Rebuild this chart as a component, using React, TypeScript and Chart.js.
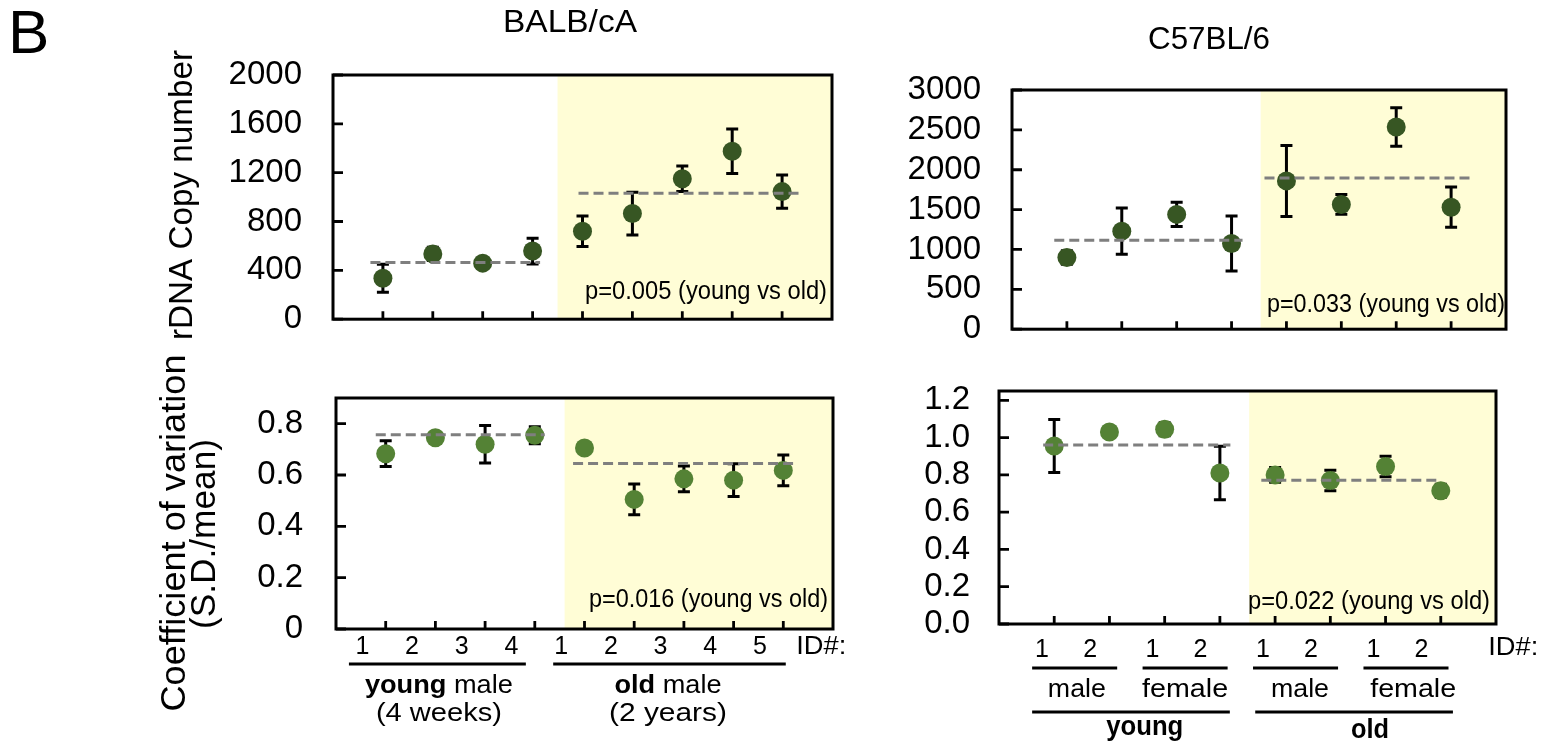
import React, { useEffect, useRef } from 'react';
import { Chart, registerables } from 'chart.js';

Chart.register(...registerables);

const FONT = '"Liberation Sans", Arial, "Noto Sans CJK JP", sans-serif';
const SHADE = '#fffdd6';
const DARK_GREEN = '#375623';
const MID_GREEN = '#548235';
const MEAN_GRAY = '#7f7f7f';

// ---------- BALB/cA ----------
const balbIds = ['1', '2', '3', '4', '1', '2', '3', '4', '5'];
const balbAges = ['young', 'old'];
const balbSex = ' male';
const balbAgeSpans = ['(4 weeks)', '(2 years)'];
const balbCopy = [336, 535, 459, 558, 720, 865, 1150, 1375, 1045];
const balbCopyErr = [115, 55, 10, 106, 125, 175, 105, 182, 137];
const balbCopyMeans = [464, 1032];
const balbCV = [0.683, 0.745, 0.72, 0.755, 0.705, 0.505, 0.585, 0.58, 0.618];
const balbCVErr = [0.05, 0.01, 0.073, 0.033, 0.02, 0.06, 0.05, 0.064, 0.06];
const balbCVMeans = [0.757, 0.645];

// ---------- C57BL/6 ----------
const c57Ids = ['1', '2', '1', '2', '1', '2', '1', '2'];
const c57Sexes = ['male', 'female', 'male', 'female'];
const c57Ages = ['young', 'old'];
const c57Copy = [900, 1230, 1440, 1075, 1860, 1565, 2535, 1530];
const c57CopyErr = [85, 290, 152, 345, 445, 124, 242, 252];
const c57CopyMeans = [1115, 1895];
const c57CV = [0.955, 1.03, 1.045, 0.81, 0.8, 0.77, 0.845, 0.715];
const c57CVErr = [0.142, 0.03, 0.035, 0.143, 0.04, 0.055, 0.055, 0.035];
const c57CVMeans = [0.96, 0.771];

// ---------- ticks & texts ----------
const copyTicksBalb = [0, 400, 800, 1200, 1600, 2000];
const copyTickLabelsBalb = ['0', '400', '800', '1200', '1600', '2000'];
const copyTicksC57 = [0, 500, 1000, 1500, 2000, 2500, 3000];
const copyTickLabelsC57 = ['0', '500', '1000', '1500', '2000', '2500', '3000'];
const cvTicksBalb = [0, 0.2, 0.4, 0.6, 0.8];
const cvTickLabelsBalb = ['0', '0.2', '0.4', '0.6', '0.8'];
const cvTicksC57 = [0, 0.2, 0.4, 0.6, 0.8, 1.0, 1.2];
const cvTickLabelsC57 = ['0.0', '0.2', '0.4', '0.6', '0.8', '1.0', '1.2'];
const pValues = ['p=0.005', 'p=0.033', 'p=0.016', 'p=0.022'];
const pSuffix = ' (young vs old)';
const strainTitles = ['BALB/cA', 'C57BL/6'];
const yTitleCopy = 'rDNA Copy number';
const yTitleCV = ['Coefficient of variation', '(S.D./mean)'];
const panelLetter = 'B';
const idLabel = 'ID#:';

function fnt(size: number, bold?: boolean) {
  return `${bold ? 'bold ' : ''}${size}px ${FONT}`;
}

function drawFit(ctx: any, text: string, x: number, y: number, size: number, width: number | null, opts: any = {}) {
  ctx.save();
  ctx.font = fnt(size, opts.bold);
  const w = ctx.measureText(text).width;
  const sx = width ? width / w : 1;
  ctx.translate(x, y);
  if (opts.rotate) ctx.rotate(opts.rotate);
  ctx.scale(sx, 1);
  ctx.textAlign = opts.align || 'center';
  ctx.textBaseline = opts.baseline || 'middle';
  ctx.fillStyle = '#000';
  ctx.fillText(text, 0, 0);
  ctx.restore();
}

function drawRich(ctx: any, parts: { t: string; bold?: boolean }[], cx: number, y: number, size: number, width: number) {
  ctx.save();
  const ws = parts.map((p) => {
    ctx.font = fnt(size, p.bold);
    return ctx.measureText(p.t).width;
  });
  const total = ws.reduce((a, b) => a + b, 0);
  ctx.translate(cx - width / 2, y);
  ctx.scale(width / total, 1);
  ctx.textAlign = 'left';
  ctx.textBaseline = 'middle';
  ctx.fillStyle = '#000';
  let xx = 0;
  parts.forEach((p, i) => {
    ctx.font = fnt(size, p.bold);
    ctx.fillText(p.t, xx, 0);
    xx += ws[i];
  });
  ctx.restore();
}

function hline(ctx: any, x1: number, x2: number, y: number, w = 2.8) {
  ctx.save();
  ctx.strokeStyle = '#000';
  ctx.lineWidth = w;
  ctx.beginPath();
  ctx.moveTo(x1, y);
  ctx.lineTo(x2, y);
  ctx.stroke();
  ctx.restore();
}

interface PanelCfg {
  box: { left: number; top: number; width: number; height: number };
  area: { left: number; top: number; right: number; bottom: number };
  values: number[];
  errors: number[];
  means: number[];
  meanSpans: number[][];
  yMax: number;
  yTicks: number[];
  yTickLabels: string[];
  tickPad: number;
  xMax: number;
  shadeFrom: number;
  color: string;
  pText: string;
  pDx: number;
  pDy: number;
  pWidth: number;
  decorate: (ctx: any, x: any, y: any, a: any) => void;
}

const panels: PanelCfg[] = [
  {
    box: { left: 0, top: 0, width: 870, height: 370 },
    area: { left: 333, top: 75, right: 832, bottom: 337 },
    values: balbCopy, errors: balbCopyErr, means: balbCopyMeans,
    meanSpans: [[0.75, 4.15], [4.92, 9.35]],
    yMax: 2000, yTicks: copyTicksBalb, yTickLabels: copyTickLabelsBalb, tickPad: 31,
    xMax: 10, shadeFrom: 4.5, color: DARK_GREEN,
    pText: pValues[0] + pSuffix, pDx: -5, pDy: -27, pWidth: 242,
    decorate: (ctx) => {
      drawFit(ctx, panelLetter, 8, 53, 62, null, { align: 'left', baseline: 'alphabetic' });
      drawFit(ctx, strainTitles[0], 570, 23, 32, 134);
      drawFit(ctx, yTitleCopy, 192, 195, 33, 290, { rotate: -Math.PI / 2, baseline: 'alphabetic' });
    },
  },
  {
    box: { left: 870, top: 0, width: 677, height: 380 },
    area: { left: 142, top: 90, right: 636, bottom: 352 },
    values: c57Copy, errors: c57CopyErr, means: c57CopyMeans,
    meanSpans: [[0.77, 4.2], [4.6, 8.38]],
    yMax: 3000, yTicks: copyTicksC57, yTickLabels: copyTickLabelsC57, tickPad: 31,
    xMax: 9, shadeFrom: 4.53, color: DARK_GREEN,
    pText: pValues[1] + pSuffix, pDx: -1, pDy: -24, pWidth: 238,
    decorate: (ctx) => {
      drawFit(ctx, strainTitles[1], 339, 40, 32, 122);
    },
  },
  {
    box: { left: 0, top: 340, width: 870, height: 403 },
    area: { left: 336, top: 58, right: 833, bottom: 289 },
    values: balbCV, errors: balbCVErr, means: balbCVMeans,
    meanSpans: [[0.8, 4.2], [4.77, 9.26]],
    yMax: 0.9, yTicks: cvTicksBalb, yTickLabels: cvTickLabelsBalb, tickPad: 33,
    xMax: 10, shadeFrom: 4.6, color: MID_GREEN,
    pText: pValues[2] + pSuffix, pDx: -5, pDy: -29, pWidth: 239,
    decorate: (ctx, x, _y, a) => {
      drawFit(ctx, yTitleCV[0], 185, 193, 35, 357, { rotate: -Math.PI / 2, baseline: 'alphabetic' });
      drawFit(ctx, yTitleCV[1], 215, 194, 35, 190, { rotate: -Math.PI / 2, baseline: 'alphabetic' });
      balbIds.forEach((t, i) => drawFit(ctx, t, x.getPixelForValue(i + 1 - 0.47), a.bottom + 18, 25, null));
      drawFit(ctx, idLabel, x.getPixelForValue(9.26), a.bottom + 18, 25, 50, { align: 'left' });
      const spans = [[0.26, 3.82], [4.37, 9.05]];
      spans.forEach((s) => hline(ctx, x.getPixelForValue(s[0]), x.getPixelForValue(s[1]), a.bottom + 35));
      const centers = [2.07, 6.68];
      const widths = [148, 107];
      const subWidths = [126, 118];
      balbAges.forEach((ag, i) => {
        const cx = x.getPixelForValue(centers[i]);
        drawRich(ctx, [{ t: ag, bold: true }, { t: balbSex }], cx, a.bottom + 57, 26, widths[i]);
        drawFit(ctx, balbAgeSpans[i], cx, a.bottom + 85, 26, subWidths[i]);
      });
    },
  },
  {
    box: { left: 870, top: 340, width: 677, height: 403 },
    area: { left: 129, top: 51, right: 626, bottom: 284 },
    values: c57CV, errors: c57CVErr, means: c57CVMeans,
    meanSpans: [[0.8, 4.19], [4.75, 7.96]],
    yMax: 1.25, yTicks: cvTicksC57, yTickLabels: cvTickLabelsC57, tickPad: 29,
    xMax: 9, shadeFrom: 4.53, color: MID_GREEN,
    pText: pValues[3] + pSuffix, pDx: -6, pDy: -22, pWidth: 242,
    decorate: (ctx, x, _y, a) => {
      c57Ids.forEach((t, i) =>
        drawFit(ctx, t, x.getPixelForValue(i + 1 - (i % 2 === 0 ? 0.22 : 0.35)), a.bottom + 26, 25, null)
      );
      drawFit(ctx, idLabel, x.getPixelForValue(8.86), a.bottom + 24, 25, 50, { align: 'left' });
      const sexCenters = [1.41, 3.37, 5.45, 7.5];
      const sexWidths = [58, 86, 58, 86];
      c57Sexes.forEach((s, g) => {
        hline(ctx, x.getPixelForValue(2 * g + 1 - 0.4), x.getPixelForValue(2 * g + 2 + 0.14), a.bottom + 44);
        drawFit(ctx, s, x.getPixelForValue(sexCenters[g]), a.bottom + 66, 26, sexWidths[g]);
      });
      const ageSpans = [[0.6, 4.18], [4.64, 8.22]];
      const ageCenters = [2.64, 6.72];
      const ageWidths = [77, 38];
      const ageDy = [104, 107];
      c57Ages.forEach((ag, i) => {
        hline(ctx, x.getPixelForValue(ageSpans[i][0]), x.getPixelForValue(ageSpans[i][1]), a.bottom + 88);
        drawFit(ctx, ag, x.getPixelForValue(ageCenters[i]), a.bottom + ageDy[i], 27, ageWidths[i], { bold: true });
      });
    },
  },
];

function Panel({ cfg }: { cfg: PanelCfg }) {
  const ref = useRef<HTMLCanvasElement>(null);
  useEffect(() => {
    const canvas = ref.current as HTMLCanvasElement;
    const { box, area } = cfg;
    const plugin = {
      id: 'panelDecor',
      beforeDatasetsDraw(chart: any) {
        const { ctx, chartArea: a, scales } = chart;
        const x = scales.x;
        const y = scales.y;
        ctx.save();
        const xs = x.getPixelForValue(cfg.shadeFrom);
        ctx.fillStyle = SHADE;
        ctx.fillRect(xs, a.top, a.right - xs, a.bottom - a.top);
        ctx.strokeStyle = '#000';
        ctx.lineWidth = 3;
        cfg.values.forEach((v, i) => {
          const px = x.getPixelForValue(i + 1);
          const t = y.getPixelForValue(v + cfg.errors[i]);
          const b = y.getPixelForValue(v - cfg.errors[i]);
          ctx.beginPath();
          ctx.moveTo(px, t);
          ctx.lineTo(px, b);
          ctx.moveTo(px - 6, t);
          ctx.lineTo(px + 6, t);
          ctx.moveTo(px - 6, b);
          ctx.lineTo(px + 6, b);
          ctx.stroke();
        });
        ctx.restore();
      },
      afterDatasetsDraw(chart: any) {
        const { ctx, chartArea: a, scales } = chart;
        const x = scales.x;
        const y = scales.y;
        ctx.save();
        ctx.strokeStyle = MEAN_GRAY;
        ctx.lineWidth = 3;
        ctx.setLineDash([10, 5]);
        cfg.means.forEach((m, i) => {
          const py = y.getPixelForValue(m);
          ctx.beginPath();
          ctx.moveTo(x.getPixelForValue(cfg.meanSpans[i][0]), py);
          ctx.lineTo(x.getPixelForValue(cfg.meanSpans[i][1]), py);
          ctx.stroke();
        });
        ctx.restore();
        drawFit(ctx, cfg.pText, a.right + cfg.pDx, a.bottom + cfg.pDy, 26, cfg.pWidth, { align: 'right' });
        ctx.save();
        ctx.strokeStyle = '#000';
        ctx.lineWidth = 3;
        ctx.strokeRect(a.left, a.top, a.right - a.left, a.bottom - a.top);
        ctx.lineWidth = 2.8;
        ctx.beginPath();
        cfg.yTicks.forEach((v) => {
          const py = y.getPixelForValue(v);
          ctx.moveTo(a.left, py);
          ctx.lineTo(a.left + 10, py);
        });
        cfg.values.forEach((_v, i) => {
          const px = x.getPixelForValue(i + 1);
          ctx.moveTo(px, a.bottom);
          ctx.lineTo(px, a.bottom - 8);
        });
        ctx.stroke();
        ctx.restore();
        cfg.decorate(ctx, x, y, a);
      },
    };
    const chart = new Chart(canvas, {
      type: 'scatter',
      data: {
        datasets: [
          {
            data: cfg.values.map((v, i) => ({ x: i + 1, y: v })),
            backgroundColor: cfg.color,
            borderWidth: 0,
            pointRadius: 9.5,
            pointHoverRadius: 9.5,
          },
        ],
      },
      options: {
        responsive: false,
        maintainAspectRatio: false,
        animation: false,
        devicePixelRatio: 1,
        events: [],
        layout: {
          padding: { left: 0, top: area.top, right: box.width - area.right, bottom: box.height - area.bottom },
        },
        plugins: { legend: { display: false }, tooltip: { enabled: false } },
        scales: {
          x: { type: 'linear', min: 0, max: cfg.xMax, display: false },
          y: {
            type: 'linear',
            min: 0,
            max: cfg.yMax,
            afterFit: (s: any) => {
              s.width = area.left;
            },
            afterBuildTicks: (s: any) => {
              s.ticks = cfg.yTicks.map((v) => ({ value: v }));
            },
            grid: { display: false, drawTicks: false },
            border: { display: false },
            ticks: {
              autoSkip: false,
              padding: cfg.tickPad,
              color: '#000',
              font: { family: FONT, size: 33 },
              callback: (_v: any, i: number) => cfg.yTickLabels[i],
            },
          },
        },
      },
      plugins: [plugin],
    } as any);
    return () => chart.destroy();
  }, [cfg]);
  return (
    <canvas
      ref={ref}
      width={cfg.box.width}
      height={cfg.box.height}
      style={{ position: 'absolute', left: cfg.box.left, top: cfg.box.top, width: cfg.box.width, height: cfg.box.height }}
    />
  );
}

export default function App() {
  return (
    <div style={{ position: 'absolute', left: 0, top: 0, width: 1547, height: 743, background: '#fff', overflow: 'hidden' }}>
      {panels.map((p, i) => (
        <Panel key={i} cfg={p} />
      ))}
    </div>
  );
}
